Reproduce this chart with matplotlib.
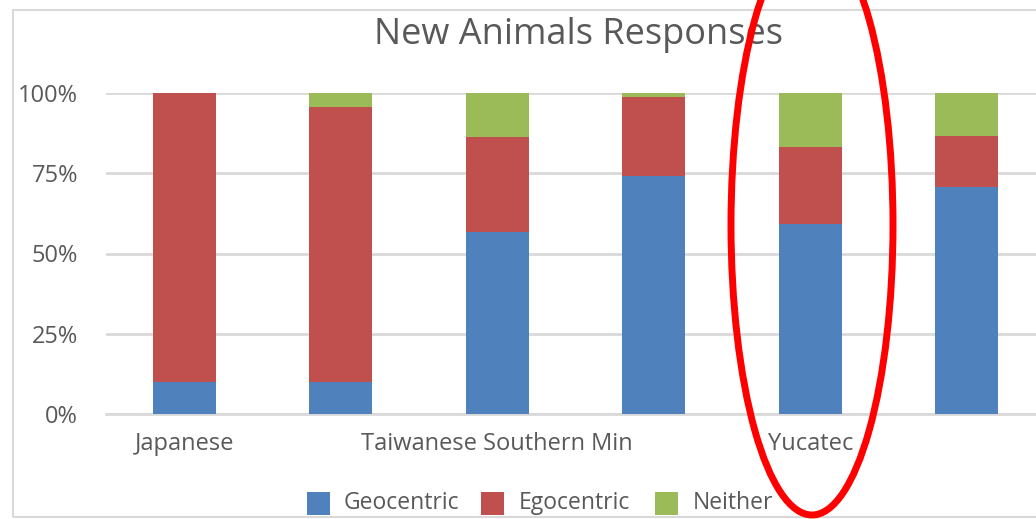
import matplotlib.pyplot as plt
import matplotlib.patches as mpatches
import numpy as np

# responses per language group, in percent
languages = ["Japanese", "", "Taiwanese Southern Min", "", "Yucatec", ""]
geocentric = [10.1, 10.1, 56.7, 74.2, 59.2, 70.7]
egocentric = [89.9, 85.5, 29.5, 24.6, 24.0, 15.9]
neither = [0.0, 4.4, 13.8, 1.2, 16.8, 13.4]

series = ["Geocentric", "Egocentric", "Neither"]
colours = ["#4F81BD", "#C0504D", "#9BBB59"]
text_col = "#595959"
grid_col = "#D9D9D9"

plt.rcParams['font.family'] = ['Open Sans', 'DejaVu Sans']

W, H = 1036, 519
fig = plt.figure(figsize=(W / 100, H / 100), dpi=100)

# chart frame (runs off the right edge)
frame = mpatches.Rectangle((13 / W, 1 - 517 / H), 1.2, (517 - 10) / H,
                           transform=fig.transFigure, fill=False,
                           edgecolor=grid_col, linewidth=1.5, zorder=0)
fig.patches.append(frame)

n = len(languages)
slot = 156.5
ax = fig.add_axes([106 / W, (H - 414) / H, n * slot / W, 321 / H])
ax.set_xlim(-0.5, n - 0.5)
ax.set_ylim(0, 100)

x = np.arange(n)
bottom = np.zeros(n)
for name, vals, c in zip(series, [geocentric, egocentric, neither], colours):
    ax.bar(x, vals, width=0.405, bottom=bottom, color=c, label=name, zorder=3)
    bottom += np.array(vals)

ax.set_yticks([0, 25, 50, 75, 100])
ax.set_yticklabels(["0%", "25%", "50%", "75%", "100%"])
ax.yaxis.grid(True, color=grid_col, linewidth=2, zorder=0)
ax.set_axisbelow(True)
for s in ax.spines.values():
    s.set_visible(False)
ax.axhline(0, color=grid_col, linewidth=2, zorder=2, clip_on=False)

ax.set_xticks(x)
ax.set_xticklabels(languages)
ax.tick_params(axis='both', length=0, labelsize=17, labelcolor=text_col)
ax.tick_params(axis='y', pad=20)
ax.tick_params(axis='x', pad=13)

fig.text(578 / W, 1 - 35 / H, "New Animals Responses", ha='center', va='center',
         fontsize=26, color=text_col)

# legend along the bottom
leg_items = [(307, 344), (481, 519), (655, 693)]
for (sx, tx), name, c in zip(leg_items, series, colours):
    fig.patches.append(mpatches.Rectangle((sx / W, 1 - 515 / H), 23 / W, 23 / H,
                                          transform=fig.transFigure,
                                          facecolor=c, edgecolor='none'))
    fig.text(tx / W, 1 - 503 / H, name, ha='left', va='center',
             fontsize=16.5, color=text_col)

# red ring around Yucatec
ring = mpatches.Ellipse((812 / W, 1 - 225 / H), 162 / W, 580 / H,
                        transform=fig.transFigure, fill=False,
                        edgecolor='#FF0000', linewidth=5, zorder=10)
fig.patches.append(ring)

fig.savefig("out.png", dpi=100)
